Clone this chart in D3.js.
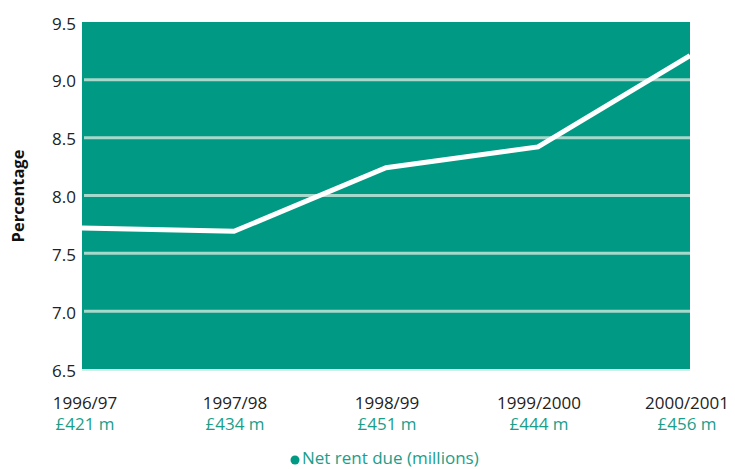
<!DOCTYPE html>
<html><head><meta charset="utf-8">
<script src="https://cdn.jsdelivr.net/npm/d3@7"></script>
<style>body{margin:0;background:#fff}svg{display:block;font-family:"Open Sans",sans-serif}</style>
</head><body>
<svg id="c" width="735" height="469"></svg>
<script>
const categories = ["1996/97","1997/98","1998/99","1999/2000","2000/2001"];
const values = [7.72, 7.69, 8.24, 8.42, 9.21];
const rentLabels = ["£421 m","£434 m","£451 m","£444 m","£456 m"];
const yTicks = [6.5,7.0,7.5,8.0,8.5,9.0,9.5];

const svg = d3.select("#c");
const L=82, R=690, T=22, B=369;
const teal="#009a84", grid="#a6d8cb", labTeal="#1a9e8a";

const x = d3.scalePoint().domain(categories).range([L,R]).padding(0);
const y = d3.scaleLinear().domain([6.5,9.5]).range([B,T]);

svg.append("rect").attr("x",L).attr("y",T).attr("width",R-L).attr("height",B-T).attr("fill",teal);

svg.append("g").selectAll("line").data(yTicks.filter(d=>d>6.5&&d<9.5)).join("line")
  .attr("x1",L+2).attr("x2",R).attr("y1",d=>y(d)).attr("y2",d=>y(d))
  .attr("stroke",grid).attr("stroke-width",3);

svg.append("line").attr("x1",L).attr("x2",R).attr("y1",B+1).attr("y2",B+1).attr("stroke","#c5e8df").attr("stroke-width",1.5);

svg.append("g").selectAll("text").data(yTicks).join("text")
  .attr("x",76).attr("y",d=>y(d)+1).attr("text-anchor","end").attr("dominant-baseline","central")
  .attr("font-size",17).attr("fill","#222").text(d=>d.toFixed(1));

svg.append("text").attr("transform","translate(24,196) rotate(-90)").attr("text-anchor","middle")
  .attr("font-size",16.5).attr("font-weight","bold").attr("fill","#111").text("Percentage");

const line = d3.line().x((d,i)=>x(categories[i])).y(d=>y(d));
svg.append("path").datum(values).attr("d",line).attr("fill","none").attr("stroke","#fff")
  .attr("stroke-width",5).attr("stroke-linejoin","miter");

svg.append("g").selectAll("text").data(categories).join("text")
  .attr("x",d=>x(d)+ (d===categories[0]?3:(d===categories[4]?-3:1))).attr("y",409).attr("text-anchor","middle")
  .attr("font-size",17).attr("fill","#222").text(d=>d);

svg.append("g").selectAll("text").data(rentLabels).join("text")
  .attr("x",(d,i)=>x(categories[i])+ (i===0?3:(i===4?-3:1))).attr("y",430).attr("text-anchor","middle")
  .attr("font-size",17).attr("fill",labTeal).text(d=>d);

svg.append("circle").attr("cx",295).attr("cy",460).attr("r",4.5).attr("fill",teal);
svg.append("text").attr("x",302).attr("y",464).attr("font-size",17).attr("fill",labTeal).text("Net rent due (millions)");
</script>
</body></html>
